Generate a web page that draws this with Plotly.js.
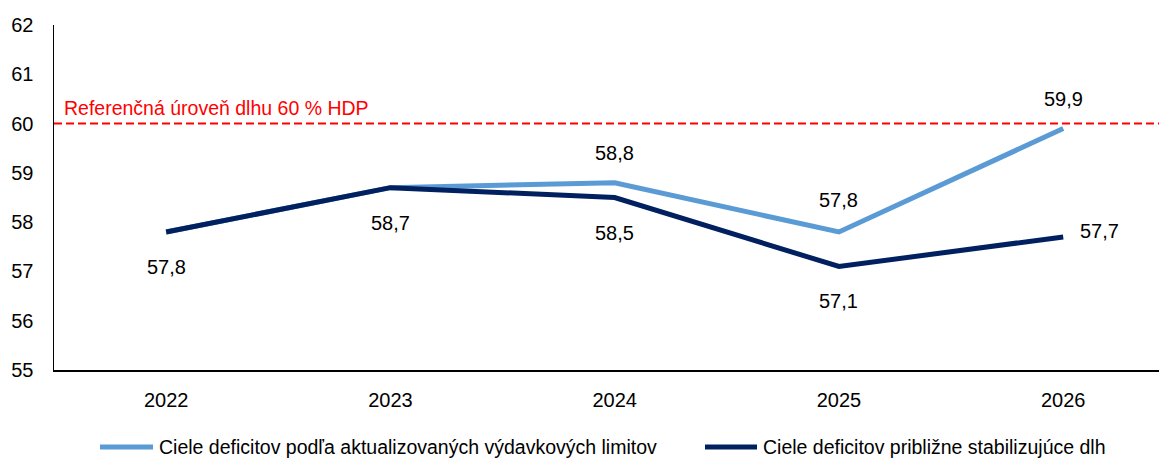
<!DOCTYPE html>
<html>
<head>
<meta charset="utf-8">
<script src="https://cdn.plot.ly/plotly-3.0.1.min.js"></script>
<style>html,body{margin:0;padding:0;background:#fff;}#chart{width:1159px;height:462px;}</style>
</head>
<body>
<div id="chart"></div>
<script>
const years = ['2022', '2023', '2024', '2025', '2026'];
const seriesLimits = [57.8, 58.7, 58.8, 57.8, 59.9];
const seriesStable = [57.8, 58.7, 58.5, 57.1, 57.7];
const nameLimits = 'Ciele deficitov podľa aktualizovaných výdavkových limitov';
const nameStable = 'Ciele deficitov približne stabilizujúce dlh';
const refValue = 60;
const refLabel = 'Referenčná úroveň dlhu 60 % HDP';
const yTicks = [55, 56, 57, 58, 59, 60, 61, 62];

const colLimits = '#5B9BD5';
const colStable = '#002060';

// label visibility / placement per point (style only)
const showLimits = [false, false, true, true, true];
const placeLimits = [null, null, [0, 30], [0, 32], [0, 30]];
const placeStable = [[0, -35], [0, -35], [0, -35], [0, -34], [36, 6]];

const fmt = v => v.toFixed(1).replace('.', ',');
const FONT = 'Liberation Sans, Arial, sans-serif';
const FS = 20;
const FS_TXT = 19.5;

// plot area geometry in pixels (for the hand-placed legend)
const L = 54, T = 25, W = 1105, H = 345;
const px2x = p => (p - L) / W;
const px2y = p => (T + H - p) / H;

const annotations = [];
years.forEach((yr, i) => {
  if (showLimits[i]) {
    annotations.push({x: i, y: seriesLimits[i], xref: 'x', yref: 'y', text: fmt(seriesLimits[i]),
      showarrow: false, xshift: placeLimits[i][0], yshift: placeLimits[i][1],
      font: {family: FONT, size: FS, color: '#000'}});
  }
  annotations.push({x: i, y: seriesStable[i], xref: 'x', yref: 'y', text: fmt(seriesStable[i]),
    showarrow: false, xshift: placeStable[i][0], yshift: placeStable[i][1],
    font: {family: FONT, size: FS, color: '#000'}});
});
annotations.push({x: 0.007, y: refValue, xref: 'paper', yref: 'y', xanchor: 'left', yanchor: 'bottom',
  yshift: 3, text: refLabel, showarrow: false, font: {family: FONT, size: FS_TXT, color: '#FF0000'}});

// legend (drawn by hand to match the reference layout)
const legendItems = [
  {name: nameLimits, color: colLimits, x0: 100, x1: 153, tx: 157},
  {name: nameStable, color: colStable, x0: 705, x1: 757, tx: 761}
];
const legendY = 447;
const shapes = [{type: 'line', xref: 'paper', yref: 'y', x0: 0, x1: 1, y0: refValue, y1: refValue,
  line: {color: '#FF0000', width: 2, dash: '8px,4px'}}];
legendItems.forEach(it => {
  shapes.push({type: 'line', xref: 'paper', yref: 'paper', x0: px2x(it.x0), x1: px2x(it.x1),
    y0: px2y(legendY), y1: px2y(legendY), line: {color: it.color, width: 5}});
  annotations.push({x: px2x(it.tx), y: px2y(legendY), xref: 'paper', yref: 'paper', xanchor: 'left',
    yanchor: 'middle', text: it.name, showarrow: false, font: {family: FONT, size: FS_TXT, color: '#000'}});
});

const traces = [
  {x: [0,1,2,3,4], y: seriesLimits, mode: 'lines', name: nameLimits,
   line: {color: colLimits, width: 5}, hoverinfo: 'skip'},
  {x: [0,1,2,3,4], y: seriesStable, mode: 'lines', name: nameStable,
   line: {color: colStable, width: 5}, hoverinfo: 'skip'}
];

const layout = {
  width: 1159, height: 462,
  margin: {l: L, r: 1159 - L - W, t: T, b: 462 - T - H},
  paper_bgcolor: '#fff', plot_bgcolor: '#fff',
  font: {family: FONT, size: FS, color: '#000'},
  showlegend: false,
  xaxis: {range: [-0.5, 4.427], tickvals: [0,1,2,3,4], ticktext: years, automargin: false,
    showgrid: false, zeroline: false, showline: true, linecolor: '#000', linewidth: 1.5,
    ticks: '', ticklabelstandoff: 11, fixedrange: true},
  yaxis: {range: [55, 62], tickvals: yTicks, ticktext: yTicks.map(String), automargin: false,
    showgrid: false, zeroline: false, showline: true, linecolor: '#000', linewidth: 1.5,
    ticks: '', ticklabelstandoff: 15, fixedrange: true},
  shapes: shapes,
  annotations: annotations
};

Plotly.newPlot('chart', traces, layout, {displayModeBar: false, staticPlot: true});
</script>
</body>
</html>
